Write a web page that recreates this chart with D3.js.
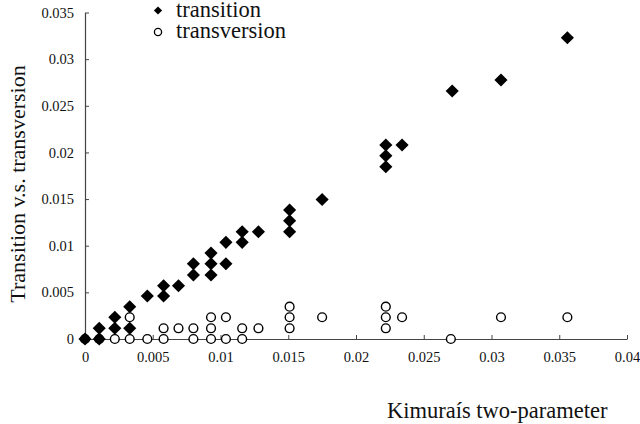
<!DOCTYPE html>
<html>
<head>
<meta charset="utf-8">
<script src="https://cdn.jsdelivr.net/npm/d3@7"></script>
<style>
  body { margin: 0; background: #fff; }
  svg text { font-family: "Liberation Serif", "Times New Roman", serif; fill: #111; }
</style>
</head>
<body>
<svg id="chart" width="640" height="424"></svg>
<script>
// tick values and labels
var xTicks = [0, 0.005, 0.01, 0.015, 0.02, 0.025, 0.03, 0.035, 0.04];
var xTickLabels = ["0", "0.005", "0.01", "0.015", "0.02", "0.025", "0.03", "0.035", "0.04"];
var yTicks = [0, 0.005, 0.01, 0.015, 0.02, 0.025, 0.03, 0.035];
var yTickLabels = ["0", "0.005", "0.01", "0.015", "0.02", "0.025", "0.03", "0.035"];

// transition (filled diamonds)
var transitionX = [0, 0.00105, 0.00105, 0.0022, 0.0022, 0.0033, 0.0033, 0.0046, 0.0058, 0.0058,
  0.0069, 0.008, 0.008, 0.0093, 0.0093, 0.0093, 0.0104, 0.0104, 0.0116, 0.0116,
  0.0128, 0.0151, 0.0151, 0.0151, 0.0175, 0.0222, 0.0222, 0.0222, 0.0234, 0.0271,
  0.0307, 0.0356];
var transitionY = [0, 0, 0.00115, 0.00115, 0.00233, 0.00115, 0.00346, 0.00461, 0.00461, 0.00571,
  0.00571, 0.00686, 0.00806, 0.00686, 0.00806, 0.00921, 0.00806, 0.01036, 0.01036, 0.01149,
  0.01149, 0.01149, 0.01268, 0.01383, 0.01495, 0.01847, 0.01965, 0.02079, 0.02079, 0.02658,
  0.02776, 0.03229];

// transversion (open circles)
var transversionX = [0, 0.00105, 0.0022, 0.0033, 0.0046, 0.0058, 0.008, 0.0093, 0.0104, 0.0116, 0.027,
  0.0058, 0.0069, 0.008, 0.0093, 0.0116, 0.0128, 0.0151, 0.0222,
  0.0033, 0.0093, 0.0104, 0.0151, 0.0175, 0.0222, 0.0234, 0.0307, 0.0356,
  0.0151, 0.0222];
var transversionY = [0, 0, 0, 0, 0, 0, 0, 0, 0, 0, 0,
  0.00115, 0.00115, 0.00115, 0.00115, 0.00115, 0.00115, 0.00115, 0.00115,
  0.00233, 0.00233, 0.00233, 0.00233, 0.00233, 0.00233, 0.00233, 0.00233, 0.00233,
  0.00346, 0.00346];

var seriesNames = ["transition", "transversion"];

var svg = d3.select("#chart");

// plot frame
var plotLeft = 85, plotRight = 627, plotTop = 12.5, plotBottom = 339;

var x = d3.scaleLinear().domain([0, 0.04]).range([plotLeft, plotRight]);
var y = d3.scaleLinear().domain([0, 0.035]).range([plotBottom, plotTop]);

var axisColor = "#444";

// x axis, ticks pointing up
var xAxis = d3.axisBottom(x)
  .tickValues(xTicks)
  .tickFormat(function(d, i) { return xTickLabels[i]; })
  .tickSizeInner(-4)
  .tickSizeOuter(0)
  .tickPadding(13);

var gx = svg.append("g")
  .attr("transform", "translate(0," + plotBottom + ")")
  .call(xAxis);

// y axis, ticks pointing right
var yAxis = d3.axisLeft(y)
  .tickValues(yTicks)
  .tickFormat(function(d, i) { return yTickLabels[i]; })
  .tickSizeInner(-4)
  .tickSizeOuter(0)
  .tickPadding(11);

var gy = svg.append("g")
  .attr("transform", "translate(" + plotLeft + ",0)")
  .call(yAxis);

[gx, gy].forEach(function(g) {
  g.select(".domain").attr("stroke", axisColor).attr("stroke-width", 1.2);
  g.selectAll(".tick line").attr("stroke", axisColor);
  g.selectAll(".tick text")
    .attr("fill", "#111")
    .style("font-size", "14.5px")
    .style("font-family", "'Liberation Serif', 'Times New Roman', serif");
});

// markers
var diamond = d3.symbol().type(d3.symbolSquare).size(86);

var transversion = transversionX.map(function(v, i) { return {x: v, y: transversionY[i]}; });
var transition = transitionX.map(function(v, i) { return {x: v, y: transitionY[i]}; });

svg.append("g").selectAll("circle")
  .data(transversion)
  .enter().append("circle")
  .attr("cx", function(d) { return x(d.x); })
  .attr("cy", function(d) { return y(d.y); })
  .attr("r", 4.4)
  .attr("fill", "#fff")
  .attr("stroke", "#000")
  .attr("stroke-width", 1.4);

svg.append("g").selectAll("path")
  .data(transition)
  .enter().append("path")
  .attr("d", diamond)
  .attr("transform", function(d) { return "translate(" + x(d.x) + "," + y(d.y) + ") rotate(45)"; })
  .attr("fill", "#000");

// legend
var legend = svg.append("g");
legend.append("path")
  .attr("d", d3.symbol().type(d3.symbolSquare).size(34))
  .attr("transform", "translate(158,10.5) rotate(45)")
  .attr("fill", "#000");
legend.append("circle")
  .attr("cx", 158).attr("cy", 32)
  .attr("r", 3.6)
  .attr("fill", "#fff")
  .attr("stroke", "#000")
  .attr("stroke-width", 1.3);
legend.selectAll("text")
  .data(seriesNames)
  .enter().append("text")
  .attr("x", 176)
  .attr("y", function(d, i) { return 17 + i * 21; })
  .style("font-size", "22.5px")
  .text(function(d) { return d; });

// axis titles
svg.append("text")
  .attr("transform", "translate(25,184) rotate(-90)")
  .attr("text-anchor", "middle")
  .style("font-size", "22px")
  .text("Transition v.s. transversion");

svg.append("text")
  .attr("x", 387)
  .attr("y", 418)
  .style("font-size", "22.5px")
  .text("Kimuraís two-parameter");
</script>
</body>
</html>
